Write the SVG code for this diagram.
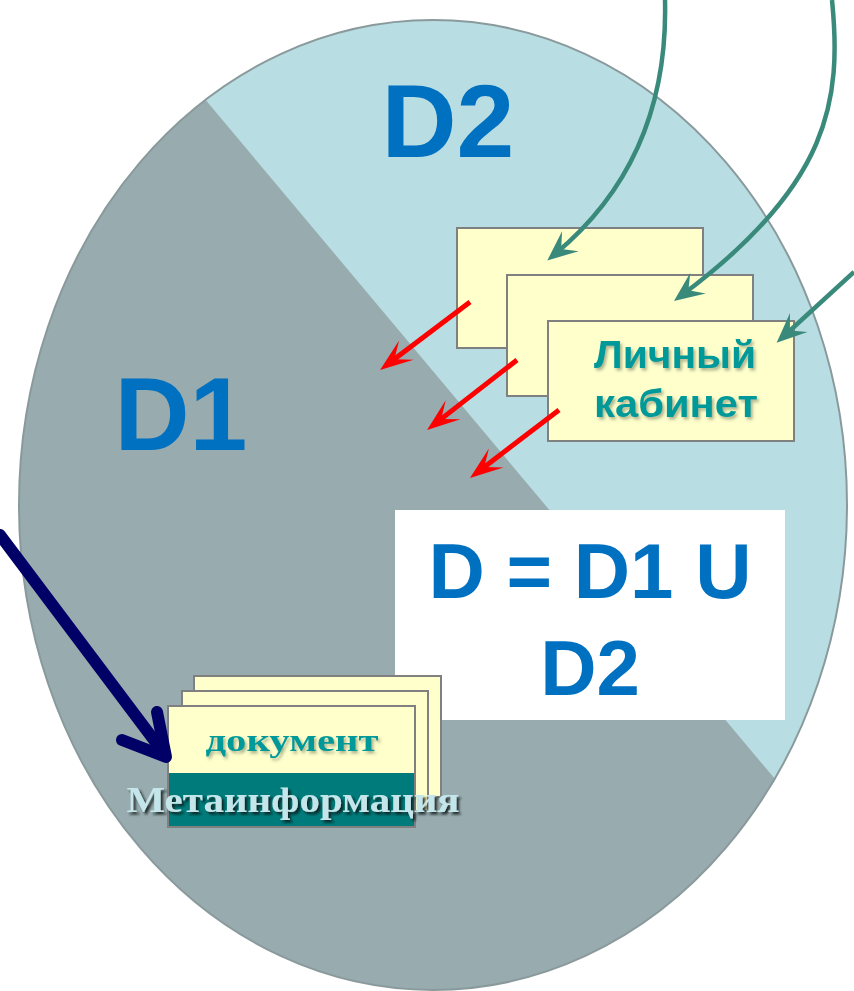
<svg xmlns="http://www.w3.org/2000/svg" width="854" height="991" viewBox="0 0 854 991">
<style>
.big{font-family:"Liberation Sans",Arial,sans-serif;font-weight:bold;fill:#0070c0;text-anchor:middle}
.card{fill:#ffffcc;stroke:#808080;stroke-width:2}
.lk{font-family:"Liberation Sans",Arial,sans-serif;font-weight:bold;font-size:38px;fill:#009999;text-anchor:middle}
.green{fill:none;stroke:#3a8a7c;stroke-width:4.5}
.red{fill:none;stroke:#ff0000;stroke-width:5}
.serif{font-family:"Liberation Serif","Times New Roman",serif;font-weight:bold;text-anchor:middle}
</style>
<defs>
<clipPath id="ell"><ellipse cx="433" cy="505" rx="414" ry="485"/></clipPath>
<filter id="soft" x="-10%" y="-30%" width="125%" height="170%"><feDropShadow dx="2" dy="2.5" stdDeviation="1.5" flood-color="#4a5a40" flood-opacity="0.45"/></filter>
<filter id="dark" x="-10%" y="-30%" width="125%" height="170%"><feDropShadow dx="2.5" dy="2.5" stdDeviation="1.2" flood-color="#101818" flood-opacity="0.85"/></filter>
<marker id="ag" markerUnits="userSpaceOnUse" orient="auto" markerWidth="40" markerHeight="40" refX="0" refY="0" overflow="visible">
<path d="M10,0 L-20,-13 L-8,0 L-20,13 Z" fill="#3a8a7c"/>
</marker>
<marker id="ar" markerUnits="userSpaceOnUse" orient="auto" markerWidth="40" markerHeight="40" refX="0" refY="0" overflow="visible">
<path d="M12,0 L-21,-12 L-6,0 L-21,12 Z" fill="#ff0000"/>
</marker>
</defs>
<rect width="854" height="991" fill="#ffffff"/>
<g id="sets">
<ellipse cx="433" cy="505" rx="414" ry="485" fill="#98abae"/>
<polygon clip-path="url(#ell)" points="38,-100 1044,1100 1100,1100 1100,-100" fill="#b8dde2"/>
<ellipse cx="433" cy="505" rx="414" ry="485" fill="none" stroke="#8a9a9c" stroke-width="2"/>
</g>
<g id="label-d2"><text class="big" x="448" y="157" font-size="104">D2</text></g>
<g id="label-d1"><text class="big" x="181" y="450" font-size="104">D1</text></g>
<g id="formula">
<rect x="395" y="510" width="390" height="210" fill="#ffffff"/>
<text class="big" x="590" y="598" font-size="78">D = D1 U</text>
<text class="big" x="590" y="695" font-size="78">D2</text>
</g>
<g id="cabinet">
<rect class="card" x="457" y="228" width="246" height="120"/>
<rect class="card" x="507" y="275" width="246" height="121"/>
<rect class="card" x="548" y="321" width="246" height="120"/>
<text class="lk" x="675" y="368" filter="url(#soft)" textLength="162" lengthAdjust="spacingAndGlyphs">Личный</text>
<text class="lk" x="676" y="417" filter="url(#soft)" textLength="164" lengthAdjust="spacingAndGlyphs">кабинет</text>
</g>
<g id="document">
<rect class="card" x="194" y="676" width="247" height="121"/>
<rect class="card" x="182" y="691" width="246" height="120"/>
<rect class="card" x="168" y="706" width="247" height="121"/>
<rect x="169" y="773" width="245" height="53" fill="#007b7b"/>
<text class="serif" x="292" y="751" font-size="32" fill="#009999" filter="url(#soft)" textLength="173" lengthAdjust="spacingAndGlyphs">документ</text>
<text class="serif" x="293" y="812" font-size="36" fill="#c4e6ea" filter="url(#dark)" textLength="333" lengthAdjust="spacingAndGlyphs">Метаинформация</text>
</g>
<g id="connectors">
<path class="green" d="M665,0 C668,120 620,200 555,254" marker-end="url(#ag)"/>
<path class="green" d="M832,0 C842,100 830,185 682,295" marker-end="url(#ag)"/>
<path class="green" d="M854,272 L784,336" marker-end="url(#ag)"/>
<line class="red" x1="470" y1="302" x2="389.6" y2="362.8" marker-end="url(#ar)"/>
<line class="red" x1="517" y1="360" x2="436.5" y2="422.6" marker-end="url(#ar)"/>
<line class="red" x1="559" y1="410" x2="479.5" y2="470.7" marker-end="url(#ar)"/>
<path d="M0,535 L163,752" fill="none" stroke="#000066" stroke-width="12" stroke-linecap="round"/>
<path d="M157,712 L166,757 L122,740" fill="none" stroke="#000066" stroke-width="12" stroke-linecap="round" stroke-linejoin="round"/>
</g>
</svg>
